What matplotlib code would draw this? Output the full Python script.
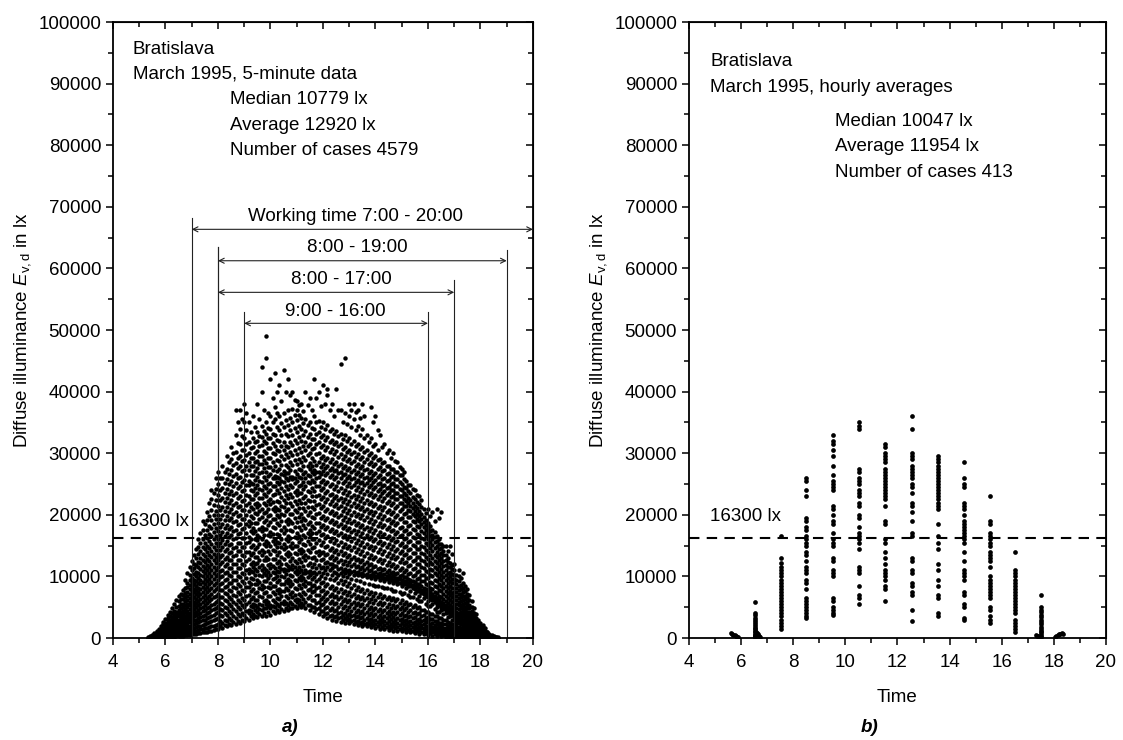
import matplotlib
matplotlib.use('Agg')
import matplotlib.pyplot as plt
from matplotlib.ticker import MultipleLocator

plt.rcParams['font.family'] = ['Liberation Sans', 'DejaVu Sans']
plt.rcParams['mathtext.fontset'] = 'custom'
plt.rcParams['mathtext.rm'] = 'Liberation Sans'
plt.rcParams['mathtext.it'] = 'Liberation Sans:italic'

# ---- a) 5-minute data (klx), grouped by time of day ----
t_5min = [5.33, 5.50, 5.67, 5.83, 6.00, 6.17, 6.33, 6.50, 6.67, 6.83,
          7.00, 7.17, 7.33, 7.50, 7.67, 7.83, 8.00, 8.17, 8.33, 8.50,
          8.67, 8.83, 9.00, 9.17, 9.33, 9.50, 9.67, 9.83, 10.00, 10.17,
          10.33, 10.50, 10.67, 10.83, 11.00, 11.17, 11.33, 11.50, 11.67, 11.83,
          12.00, 12.17, 12.33, 12.50, 12.67, 12.83, 13.00, 13.17, 13.33, 13.50,
          13.67, 13.83, 14.00, 14.17, 14.33, 14.50, 14.67, 14.83, 15.00, 15.17,
          15.33, 15.50, 15.67, 15.83, 16.00, 16.17, 16.33, 16.50, 16.67, 16.83,
          17.00, 17.17, 17.33, 17.50, 17.67, 17.83, 18.00, 18.17, 18.33, 18.50,
          18.67]
e_5min = [
    [0.0, 0.05, 0.1],
    [0.0, 0.1, 0.2, 0.3, 0.5],
    [0.0, 0.1, 0.2, 0.4, 0.6, 0.9, 1.2],
    [0.1, 0.2, 0.4, 0.6, 0.8, 1.1, 1.5, 2.0],
    [0.1, 0.3, 0.5, 0.8, 1.0, 1.3, 1.6, 2.0, 2.5, 3.1],
    [0.2, 0.4, 0.7, 1.0, 1.3, 1.6, 2.0, 2.4, 2.9, 3.5, 4.3],
    [0.2, 0.5, 0.8, 1.2, 1.5, 1.9, 2.3, 2.7, 3.2, 3.7, 4.4, 5.5],
    [0.3, 0.6, 1.0, 1.4, 1.8, 2.2, 2.6, 3.0, 3.5, 4.0, 4.6, 5.2, 6.0, 6.8],
    [0.4, 0.8, 1.2, 1.6, 2.1, 2.5, 3.0, 3.4, 3.9, 4.4, 5.0, 5.6, 6.3, 7.0, 7.8],
    [0.5, 0.9, 1.4, 1.9, 2.4, 2.9, 3.4, 3.9, 4.4, 5.0, 5.6, 6.2, 6.8, 7.5, 8.3, 9.0, 10.5],
    [0.6, 1.0, 1.5, 2.1, 2.7, 3.2, 3.8, 4.4, 5.0, 5.6, 6.3, 7.0, 7.7, 8.4, 9.1, 9.8, 11.0, 12.5],
    [0.7, 1.2, 1.8, 2.4, 3.0, 3.7, 4.3, 5.0, 5.7, 6.4, 7.1, 7.8, 8.5, 9.3, 10.0, 10.8, 11.8, 13.0, 14.5],
    [0.8, 1.4, 2.0, 2.7, 3.4, 4.1, 4.9, 5.6, 6.3, 7.1, 7.9, 8.7, 9.5, 10.3, 11.2, 12.1, 13.0, 14.2, 15.5, 17.0],
    [1.0, 1.6, 2.3, 3.0, 3.8, 4.6, 5.4, 6.2, 7.0, 7.9, 8.8, 9.6, 10.5, 11.4, 12.3, 13.3, 14.4, 15.5, 16.8, 18.5],
    [1.1, 1.8, 2.6, 3.4, 4.3, 5.1, 6.0, 6.9, 7.8, 8.7, 9.6, 10.5, 11.5, 12.5, 13.5, 14.6, 15.7, 16.9, 18.2, 19.8, 22.0],
    [1.3, 2.0, 2.9, 3.8, 4.7, 5.6, 6.6, 7.6, 8.6, 9.6, 10.6, 11.6, 12.6, 13.7, 14.8, 16.0, 17.2, 18.5, 20.0, 21.6, 23.5],
    [1.5, 2.3, 3.2, 4.2, 5.2, 6.2, 7.2, 8.3, 9.4, 10.4, 11.5, 12.6, 13.7, 14.9, 16.1, 17.3, 18.6, 20.0, 21.5, 23.2, 25.0, 27.0],
    [1.7, 2.5, 3.5, 4.5, 5.6, 6.7, 7.8, 8.9, 10.0, 11.1, 12.3, 13.5, 14.7, 15.9, 17.2, 18.5, 19.9, 21.3, 22.8, 24.4, 26.0, 28.0],
    [1.9, 2.8, 3.8, 4.9, 6.0, 7.2, 8.4, 9.6, 10.8, 12.0, 13.2, 14.5, 15.8, 17.1, 18.4, 19.8, 21.2, 22.7, 24.2, 25.8, 27.5, 29.5],
    [2.1, 3.0, 4.1, 5.2, 6.4, 7.6, 8.9, 10.1, 11.4, 12.7, 14.0, 15.3, 16.7, 18.1, 19.5, 20.9, 22.4, 23.9, 25.5, 27.2, 29.0, 31.0],
    [2.3, 3.3, 4.4, 5.6, 6.8, 8.1, 9.4, 10.7, 12.0, 13.4, 14.8, 16.2, 17.6, 19.0, 20.5, 22.0, 23.5, 25.1, 26.7, 28.4, 30.2, 33.0, 37.0],
    [2.5, 3.5, 4.7, 5.9, 7.2, 8.5, 9.9, 11.3, 12.7, 14.1, 15.5, 17.0, 18.5, 20.0, 21.5, 23.0, 24.6, 26.2, 27.9, 29.6, 31.5, 34.0, 37.0],
    [2.7, 3.8, 5.0, 6.2, 7.6, 9.0, 10.4, 11.8, 13.3, 14.8, 16.3, 17.8, 19.3, 20.8, 22.4, 24.0, 25.6, 27.2, 28.9, 30.6, 32.5, 35.0, 38.0],
    [3.0, 4.1, 4.6, 5.8, 7.0, 8.3, 9.1, 10.6, 11.2, 12.9, 14.0, 15.6, 16.4, 18.2, 19.0, 20.7, 21.9, 23.1, 24.8, 25.5, 27.3, 28.6, 30.1, 31.8, 35.0],
    [3.2, 3.9, 5.1, 5.5, 6.7, 8.0, 9.6, 10.8, 11.5, 12.4, 13.8, 15.1, 17.0, 17.9, 19.5, 21.0, 22.6, 23.8, 25.0, 26.4, 27.9, 29.2, 31.0, 32.5, 36.0],
    [3.4, 4.3, 5.0, 6.1, 7.4, 8.8, 9.5, 10.9, 12.2, 13.1, 14.7, 15.9, 16.8, 18.6, 20.1, 21.3, 22.0, 23.5, 24.9, 26.1, 27.6, 28.8, 30.4, 32.0, 33.5, 38.0],
    [3.5, 4.5, 5.3, 6.6, 7.9, 8.6, 10.0, 11.0, 11.8, 13.5, 14.3, 16.1, 17.4, 18.0, 19.7, 20.9, 22.8, 24.1, 25.3, 26.9, 28.2, 29.5, 31.3, 32.7, 34.5, 40.0, 44.0],
    [3.6, 4.8, 5.6, 6.2, 7.5, 9.2, 10.3, 11.1, 12.6, 13.2, 14.9, 15.8, 17.7, 19.1, 20.4, 21.6, 23.0, 24.4, 25.7, 27.0, 28.4, 30.0, 31.6, 33.2, 35.0, 45.5, 49.0],
    [3.8, 4.9, 5.4, 6.8, 8.1, 8.9, 10.2, 11.3, 12.0, 13.7, 15.0, 16.5, 17.2, 18.8, 20.0, 21.8, 22.5, 24.0, 25.2, 26.6, 27.8, 29.3, 30.9, 32.4, 34.0, 36.0, 42.0],
    [4.0, 5.0, 5.9, 7.1, 8.4, 9.7, 10.5, 11.4, 12.8, 14.2, 15.3, 16.0, 17.9, 19.3, 20.6, 21.2, 23.4, 24.7, 25.9, 26.3, 28.0, 29.8, 31.2, 33.0, 35.5, 37.5, 43.0],
    [4.2, 5.2, 6.3, 7.3, 8.0, 9.4, 10.7, 11.6, 12.5, 13.9, 15.5, 16.8, 18.3, 19.6, 20.8, 22.1, 23.6, 25.0, 26.0, 27.4, 28.7, 30.3, 32.0, 33.8, 36.0, 41.0],
    [4.4, 5.5, 6.0, 7.6, 8.7, 9.9, 10.9, 11.2, 12.9, 14.5, 15.2, 17.1, 18.0, 19.9, 21.3, 22.4, 23.9, 25.4, 26.5, 27.1, 29.0, 30.6, 31.9, 34.2, 36.5, 43.5],
    [4.6, 5.3, 6.5, 7.8, 9.0, 9.6, 11.0, 11.7, 13.3, 14.0, 15.8, 16.6, 18.5, 19.4, 21.0, 22.7, 24.2, 25.6, 26.8, 27.7, 29.4, 31.0, 32.8, 34.6, 37.0, 42.0],
    [4.8, 5.6, 6.7, 7.4, 8.8, 10.1, 11.2, 11.9, 13.0, 14.6, 15.4, 17.3, 18.7, 20.2, 21.5, 22.9, 24.5, 25.8, 26.2, 28.1, 29.7, 31.4, 33.0, 35.1, 37.2, 40.0],
    [4.9, 5.8, 6.4, 7.9, 9.2, 10.4, 11.0, 12.1, 13.6, 14.9, 16.2, 17.0, 18.9, 20.5, 21.7, 23.2, 24.0, 25.5, 26.7, 28.3, 29.9, 31.7, 33.5, 35.4, 37.0, 38.5],
    [5.0, 5.7, 6.9, 8.2, 9.5, 10.0, 11.1, 12.4, 13.8, 14.4, 16.0, 17.6, 19.0, 20.1, 22.0, 23.5, 24.8, 26.0, 27.2, 28.6, 30.2, 32.0, 33.9, 35.8, 38.0],
    [4.8, 5.9, 7.2, 8.5, 9.3, 10.6, 11.0, 12.7, 13.5, 15.1, 16.4, 17.8, 19.2, 20.7, 21.9, 23.0, 24.6, 25.9, 27.0, 28.9, 30.5, 31.8, 33.6, 35.6, 40.0],
    [4.6, 5.4, 6.8, 8.0, 9.0, 10.3, 10.9, 12.2, 13.9, 15.3, 16.7, 17.5, 18.8, 20.4, 22.3, 23.7, 25.1, 26.3, 27.5, 28.4, 30.0, 31.5, 33.2, 35.0, 39.0],
    [4.3, 5.1, 6.2, 7.7, 8.6, 9.9, 10.8, 12.0, 13.2, 14.7, 16.1, 17.9, 19.5, 20.9, 22.2, 23.9, 25.3, 26.6, 27.3, 28.8, 30.8, 32.3, 34.0, 36.0, 42.0],
    [3.9, 4.8, 5.8, 7.0, 8.3, 9.6, 10.7, 11.9, 13.4, 14.2, 15.9, 17.4, 18.6, 20.3, 21.8, 23.3, 24.7, 26.1, 27.0, 28.5, 30.1, 31.9, 33.4, 35.2, 40.0],
    [3.5, 4.4, 5.5, 6.6, 7.8, 9.1, 10.5, 11.5, 12.8, 14.0, 15.6, 16.9, 18.4, 19.8, 21.4, 22.9, 24.3, 25.7, 27.1, 28.2, 29.6, 31.3, 33.0, 35.0, 41.0],
    [3.2, 4.0, 5.1, 6.3, 7.5, 8.8, 10.4, 11.6, 12.3, 13.6, 15.0, 16.6, 18.1, 19.5, 21.0, 22.6, 23.8, 25.4, 26.8, 27.9, 29.3, 31.0, 32.6, 34.6, 39.5, 40.5],
    [3.0, 3.8, 4.9, 6.0, 7.2, 8.5, 10.2, 11.3, 12.0, 13.3, 14.6, 16.3, 17.7, 19.2, 20.6, 22.2, 23.4, 25.0, 26.5, 27.6, 29.0, 30.7, 32.2, 34.0, 38.0],
    [2.8, 3.6, 4.5, 5.7, 6.9, 8.2, 9.8, 10.6, 11.7, 13.0, 14.3, 15.9, 17.4, 18.9, 20.3, 21.8, 23.1, 24.6, 26.2, 27.3, 28.6, 30.3, 31.9, 33.6, 40.5],
    [2.6, 3.4, 4.2, 5.5, 6.6, 7.9, 9.5, 10.5, 11.4, 12.7, 14.1, 15.6, 17.1, 18.5, 19.9, 21.5, 22.8, 24.3, 25.9, 27.0, 28.3, 29.9, 31.5, 33.2, 37.0, 44.5],
    [2.5, 3.3, 4.0, 5.2, 6.4, 7.7, 9.2, 10.6, 11.2, 12.5, 13.8, 15.3, 16.8, 18.2, 19.6, 21.1, 22.5, 24.0, 25.5, 26.6, 28.0, 29.5, 31.0, 33.0, 36.5, 45.5],
    [2.5, 3.1, 3.9, 5.0, 6.1, 7.4, 8.9, 10.4, 11.0, 12.3, 13.5, 15.0, 16.5, 17.9, 19.3, 20.8, 22.2, 23.7, 25.2, 26.3, 27.6, 29.1, 30.6, 32.5, 36.0, 38.0],
    [2.3, 3.0, 3.8, 4.8, 5.9, 7.1, 8.6, 10.3, 10.9, 12.0, 13.2, 14.7, 16.2, 17.6, 19.0, 20.5, 21.9, 23.3, 24.8, 26.0, 27.2, 28.7, 30.2, 32.0, 35.5, 38.0],
    [2.1, 2.8, 3.6, 4.6, 5.7, 6.9, 8.3, 10.2, 10.7, 11.7, 12.9, 14.4, 15.9, 17.3, 18.7, 20.2, 21.6, 23.0, 24.5, 25.7, 26.9, 28.3, 29.8, 31.5, 34.5, 37.0],
    [2.0, 2.6, 3.4, 4.4, 5.5, 6.7, 8.0, 10.0, 10.6, 11.5, 12.6, 14.1, 15.6, 17.0, 18.4, 19.9, 21.3, 22.7, 24.2, 25.4, 26.6, 27.9, 29.4, 31.0, 34.0, 38.0],
    [1.9, 2.5, 3.3, 4.2, 5.3, 6.5, 7.8, 9.9, 10.4, 11.3, 12.3, 13.8, 15.3, 16.7, 18.1, 19.6, 21.0, 22.4, 23.9, 25.1, 26.2, 27.5, 29.0, 30.5, 33.0],
    [1.8, 2.4, 3.1, 4.0, 5.1, 6.3, 7.5, 9.8, 10.2, 11.0, 12.0, 13.5, 15.0, 16.4, 17.8, 19.3, 20.7, 22.1, 23.6, 24.8, 25.9, 27.1, 28.6, 30.0, 32.5, 37.5],
    [1.6, 2.3, 3.0, 3.9, 4.9, 6.1, 7.3, 8.4, 9.6, 10.1, 10.8, 11.7, 13.2, 14.7, 16.1, 17.5, 19.0, 20.4, 21.8, 23.3, 24.5, 25.6, 26.8, 28.2, 29.5, 31.5, 36.0],
    [1.5, 2.2, 2.9, 3.7, 4.7, 5.9, 7.1, 9.4, 10.0, 10.6, 11.4, 12.9, 14.4, 15.8, 17.2, 18.7, 20.1, 21.5, 23.0, 24.2, 25.2, 26.4, 27.8, 29.0, 33.0],
    [1.4, 2.1, 2.8, 3.6, 4.5, 5.7, 6.9, 8.1, 9.3, 9.8, 10.4, 11.2, 12.6, 14.1, 15.5, 16.9, 18.4, 19.8, 21.2, 22.7, 23.9, 24.9, 26.0, 27.3, 28.5, 31.5],
    [1.3, 2.0, 2.7, 3.5, 4.4, 5.5, 6.7, 9.1, 9.7, 10.2, 11.0, 12.3, 13.8, 15.2, 16.6, 18.0, 19.4, 20.8, 22.3, 23.5, 24.5, 25.6, 26.8, 28.0, 30.5],
    [1.2, 1.9, 2.6, 3.4, 4.3, 5.4, 6.5, 7.7, 8.9, 9.5, 10.0, 10.8, 12.0, 13.5, 14.9, 16.2, 17.6, 19.0, 20.4, 21.9, 23.1, 24.1, 25.2, 26.3, 27.5, 30.0],
    [1.2, 1.8, 2.5, 3.3, 4.2, 5.2, 6.3, 8.7, 9.3, 9.8, 10.5, 11.7, 13.1, 14.5, 15.8, 17.2, 18.6, 20.0, 21.4, 22.6, 23.6, 24.7, 25.8, 27.0, 28.5],
    [1.1, 1.7, 2.4, 3.1, 4.0, 5.0, 6.1, 7.2, 8.4, 9.0, 9.5, 10.2, 11.4, 12.8, 14.1, 15.4, 16.8, 18.1, 19.5, 20.9, 22.0, 23.0, 24.0, 25.0, 26.5, 27.5],
    [1.0, 1.6, 2.2, 3.0, 3.8, 4.8, 5.9, 8.1, 8.7, 9.2, 9.9, 11.0, 12.4, 13.7, 14.9, 16.3, 17.6, 18.9, 20.3, 21.4, 22.3, 23.3, 24.3, 25.5],
    [0.9, 1.5, 2.1, 2.8, 3.6, 4.5, 5.6, 6.6, 7.7, 8.4, 8.9, 9.5, 10.6, 11.9, 13.2, 14.4, 15.7, 17.0, 18.3, 19.6, 20.6, 21.5, 22.4, 23.5, 24.8],
    [0.8, 1.4, 2.0, 2.6, 3.4, 4.3, 5.3, 7.3, 8.0, 8.5, 9.1, 10.2, 11.4, 12.6, 13.8, 15.0, 16.3, 17.5, 18.8, 19.8, 20.6, 21.5, 22.6, 24.0],
    [0.7, 1.3, 1.8, 2.4, 3.1, 4.0, 5.0, 6.0, 6.9, 7.6, 8.1, 8.7, 9.7, 10.9, 12.0, 13.2, 14.4, 15.6, 16.8, 18.0, 19.0, 19.8, 20.6, 21.8, 23.0],
    [0.6, 1.1, 1.6, 2.2, 2.9, 3.7, 4.6, 6.5, 7.1, 7.6, 8.2, 9.2, 10.3, 11.4, 12.5, 13.7, 14.8, 16.0, 17.1, 18.0, 18.8, 19.6, 21.0],
    [0.5, 1.0, 1.5, 2.0, 2.7, 3.4, 4.3, 5.2, 6.0, 6.6, 7.1, 7.7, 8.6, 9.7, 10.7, 11.8, 12.9, 14.0, 15.1, 16.1, 17.0, 17.8, 18.6, 21.0],
    [0.4, 0.9, 1.3, 1.8, 2.4, 3.1, 3.9, 5.5, 6.1, 6.6, 7.1, 8.0, 9.0, 10.0, 11.0, 12.0, 13.0, 14.1, 15.1, 16.0, 16.8, 17.6, 20.5],
    [0.4, 0.8, 1.2, 1.6, 2.2, 2.8, 3.6, 4.3, 5.0, 5.6, 6.0, 6.5, 7.3, 8.3, 9.2, 10.2, 11.2, 12.1, 13.1, 14.0, 14.9, 15.7, 16.5, 21.0],
    [0.3, 0.7, 1.0, 1.4, 1.9, 2.5, 3.2, 4.5, 5.0, 5.4, 5.9, 6.7, 7.6, 8.5, 9.4, 10.3, 11.2, 12.1, 13.0, 13.8, 14.6, 15.3, 20.5],
    [0.2, 0.5, 0.8, 1.2, 1.7, 2.2, 2.9, 4.0, 4.5, 4.9, 5.3, 6.0, 6.9, 7.7, 8.5, 9.4, 10.2, 11.0, 11.9, 12.7, 13.4, 15.0],
    [0.2, 0.4, 0.7, 1.0, 1.4, 1.9, 2.5, 3.5, 3.9, 4.3, 4.7, 5.4, 6.2, 7.0, 7.7, 8.5, 9.3, 10.0, 10.8, 11.5, 12.2, 15.0],
    [0.1, 0.3, 0.6, 0.9, 1.2, 1.6, 2.1, 3.0, 3.4, 3.7, 4.1, 4.7, 5.4, 6.1, 6.8, 7.5, 8.2, 8.9, 9.6, 10.3, 11.0, 12.0],
    [0.1, 0.3, 0.5, 0.7, 1.0, 1.4, 1.8, 2.5, 2.9, 3.2, 3.5, 4.1, 4.7, 5.3, 5.9, 6.5, 7.2, 7.8, 8.5, 9.2, 10.0, 11.0],
    [0.1, 0.2, 0.4, 0.6, 0.8, 1.1, 1.5, 2.0, 2.4, 2.7, 3.0, 3.5, 4.0, 4.5, 5.0, 5.6, 6.2, 6.8, 7.4, 8.1, 9.0, 10.5],
    [0.05, 0.2, 0.3, 0.5, 0.7, 0.9, 1.2, 1.6, 1.9, 2.2, 2.5, 2.9, 3.3, 3.8, 4.3, 4.8, 5.3, 5.9, 6.5, 7.2, 8.0],
    [0.05, 0.1, 0.2, 0.4, 0.5, 0.7, 0.9, 1.2, 1.5, 1.7, 2.0, 2.3, 2.7, 3.1, 3.5, 3.9, 4.4, 5.0, 6.0],
    [0.0, 0.1, 0.2, 0.3, 0.4, 0.5, 0.7, 0.9, 1.1, 1.3, 1.5, 1.8, 2.1, 2.4, 2.8, 3.3, 3.9],
    [0.0, 0.1, 0.15, 0.2, 0.3, 0.4, 0.5, 0.7, 0.8, 1.0, 1.2, 1.4, 1.7, 2.0, 2.5],
    [0.0, 0.05, 0.1, 0.15, 0.2, 0.3, 0.4, 0.5, 0.6, 0.8, 1.0, 1.2, 1.6],
    [0.0, 0.05, 0.1, 0.15, 0.2, 0.3, 0.4, 0.5, 0.7],
    [0.0, 0.05, 0.1, 0.2, 0.3],
    [0.0, 0.05, 0.1],
]
# the samples in between (5 minutes later)
t_5min_b = [5.42, 5.58, 5.75, 5.92, 6.08, 6.25, 6.42, 6.58, 6.75, 6.92,
            7.08, 7.25, 7.42, 7.58, 7.75, 7.92, 8.08, 8.25, 8.42, 8.58,
            8.75, 8.92, 9.08, 9.25, 9.42, 9.58, 9.75, 9.92, 10.08, 10.25,
            10.42, 10.58, 10.75, 10.92, 11.08, 11.25, 11.42, 11.58, 11.75, 11.92,
            12.08, 12.25, 12.42, 12.58, 12.75, 12.92, 13.08, 13.25, 13.42, 13.58,
            13.75, 13.92, 14.08, 14.25, 14.42, 14.58, 14.75, 14.92, 15.08, 15.25,
            15.42, 15.58, 15.75, 15.92, 16.08, 16.25, 16.42, 16.58, 16.75, 16.92,
            17.08, 17.25, 17.42, 17.58, 17.75, 17.92, 18.08, 18.25, 18.42, 18.58]
e_5min_b = [
    [0.0, 0.05, 0.15, 0.3],
    [0.0, 0.1, 0.2, 0.35, 0.6, 0.8],
    [0.05, 0.2, 0.3, 0.5, 0.75, 1.0, 1.4],
    [0.1, 0.25, 0.45, 0.7, 0.95, 1.2, 1.7, 2.3, 2.6],
    [0.15, 0.35, 0.6, 0.9, 1.15, 1.5, 1.8, 2.2, 2.7, 3.3, 3.8],
    [0.2, 0.45, 0.75, 1.1, 1.45, 1.75, 2.2, 2.6, 3.0, 3.4, 4.0, 4.8],
    [0.25, 0.55, 0.9, 1.3, 1.65, 2.05, 2.5, 2.85, 3.35, 3.9, 4.2, 5.0, 6.2],
    [0.35, 0.7, 1.1, 1.5, 2.0, 2.4, 2.8, 3.3, 3.7, 4.3, 4.9, 5.5, 6.4, 7.2],
    [0.45, 0.85, 1.3, 1.75, 2.3, 2.7, 3.2, 3.65, 4.2, 4.7, 5.3, 6.0, 6.6, 7.3, 8.1, 9.5],
    [0.5, 1.0, 1.45, 2.0, 2.55, 3.1, 3.6, 4.1, 4.7, 5.3, 5.9, 6.5, 7.2, 7.9, 8.6, 9.4, 10.2, 11.5],
    [0.65, 1.1, 1.7, 2.25, 2.85, 3.5, 4.0, 4.7, 5.3, 5.9, 6.7, 7.4, 8.0, 8.8, 9.5, 10.4, 11.4, 12.0, 13.5],
    [0.75, 1.3, 1.9, 2.55, 3.2, 3.9, 4.6, 5.3, 6.0, 6.8, 7.5, 8.2, 9.0, 9.8, 10.6, 11.5, 12.4, 13.6, 14.8, 16.0],
    [0.9, 1.5, 2.15, 2.85, 3.6, 4.35, 5.1, 5.9, 6.6, 7.5, 8.3, 9.1, 10.0, 10.9, 11.7, 12.7, 13.7, 14.8, 16.1, 17.5, 19.0],
    [1.05, 1.7, 2.45, 3.2, 4.0, 4.85, 5.7, 6.55, 7.4, 8.3, 9.2, 10.1, 11.0, 11.9, 12.9, 13.9, 15.0, 16.2, 17.5, 19.2, 20.5],
    [1.2, 1.9, 2.75, 3.6, 4.5, 5.35, 6.3, 7.2, 8.2, 9.1, 10.1, 11.1, 12.0, 13.1, 14.2, 15.3, 16.5, 17.8, 19.1, 20.8, 22.5, 24.0],
    [1.4, 2.15, 3.05, 4.0, 4.9, 5.9, 6.9, 7.9, 9.0, 10.0, 11.0, 12.1, 13.2, 14.3, 15.5, 16.6, 17.9, 19.3, 20.7, 22.4, 24.2, 26.0],
    [1.9, 2.75, 3.7, 4.7, 5.7, 6.7, 7.75, 8.85, 9.9, 10.95, 12.05, 13.15, 14.3, 15.5, 16.7, 17.95, 19.3, 20.75, 22.35, 24.1, 26.0],
    [2.1, 3.0, 4.0, 5.05, 6.15, 7.25, 8.35, 9.45, 10.55, 11.7, 12.9, 14.1, 15.3, 16.55, 17.85, 19.2, 20.6, 22.05, 23.6, 25.2, 27.0],
    [2.35, 3.3, 4.35, 5.45, 6.6, 7.8, 9.0, 10.2, 11.4, 12.6, 13.85, 15.15, 16.45, 17.75, 19.1, 20.5, 21.95, 23.45, 25.0, 26.65, 28.5],
    [2.55, 3.55, 4.65, 5.8, 7.0, 8.25, 9.5, 10.75, 12.05, 13.35, 14.65, 16.0, 17.4, 18.8, 20.2, 21.65, 23.15, 24.7, 26.35, 28.1, 30.0],
    [2.8, 3.85, 5.0, 6.2, 7.45, 8.75, 10.05, 11.35, 12.7, 14.1, 15.5, 16.9, 18.3, 19.75, 21.25, 22.75, 24.3, 25.9, 27.55, 29.3, 31.6, 35.0],
    [3.0, 4.1, 5.3, 6.55, 7.85, 9.2, 10.6, 12.0, 13.4, 14.8, 16.25, 17.75, 19.25, 20.75, 22.25, 23.8, 25.4, 27.05, 28.75, 30.55, 32.75, 35.5],
    [3.2, 4.4, 5.6, 6.9, 8.3, 9.7, 11.1, 12.5, 14.0, 15.5, 17.0, 18.5, 20.0, 21.6, 23.2, 24.8, 26.4, 28.0, 29.7, 31.5, 33.7, 36.5],
    [3.5, 4.35, 5.2, 6.4, 7.6, 8.7, 9.8, 10.9, 12.0, 13.4, 14.8, 16.0, 17.3, 18.6, 19.8, 21.3, 22.5, 24.0, 25.1, 26.4, 27.9, 29.3, 30.9, 33.4],
    [3.55, 4.5, 5.3, 6.1, 7.35, 8.8, 10.2, 11.15, 11.95, 13.1, 14.45, 16.05, 17.45, 18.7, 20.25, 21.8, 23.2, 24.4, 25.7, 27.15, 28.55, 30.1, 31.75, 34.2],
    [3.85, 4.65, 5.55, 6.75, 8.1, 9.15, 10.2, 11.55, 12.65, 13.9, 15.3, 16.35, 17.7, 19.35, 20.7, 21.65, 22.75, 24.2, 25.5, 26.85, 28.2, 29.6, 31.2, 32.75, 35.5],
    [4.0, 4.9, 5.95, 7.25, 8.25, 9.3, 10.5, 11.4, 12.65, 13.9, 15.2, 16.75, 17.7, 18.85, 20.3, 21.85, 23.45, 24.7, 26.1, 27.55, 28.85, 30.4, 32.0, 33.6, 37.0],
    [4.2, 5.2, 5.9, 6.85, 8.35, 9.75, 10.7, 11.85, 12.9, 14.05, 15.35, 16.75, 18.4, 19.75, 21.0, 22.3, 23.7, 25.05, 26.35, 27.7, 29.2, 30.8, 32.4, 34.1, 36.5],
    [4.35, 5.15, 6.1, 7.45, 8.5, 9.55, 10.75, 11.65, 12.85, 14.35, 15.75, 16.85, 18.0, 19.4, 20.9, 22.15, 23.25, 24.6, 25.9, 27.2, 28.55, 30.1, 31.65, 33.2, 35.0, 39.0],
    [4.5, 5.45, 6.5, 7.75, 9.05, 10.1, 10.95, 12.1, 13.5, 14.75, 15.65, 16.95, 18.6, 19.95, 20.9, 22.3, 24.05, 25.3, 26.1, 27.15, 28.9, 30.5, 32.1, 34.25, 36.5, 40.0],
    [4.7, 5.75, 6.8, 7.65, 8.7, 10.05, 11.15, 12.05, 13.2, 14.7, 16.15, 17.55, 18.95, 20.2, 21.45, 22.85, 24.3, 25.5, 26.7, 28.05, 29.5, 31.15, 32.9, 34.9, 38.5],
    [4.95, 5.75, 6.8, 8.15, 9.3, 10.4, 11.05, 12.05, 13.7, 14.85, 16.15, 17.55, 18.95, 20.6, 21.85, 23.15, 24.65, 25.95, 26.8, 28.05, 29.8, 31.25, 33.05, 35.35, 40.0],
    [4.95, 5.9, 7.15, 8.4, 9.3, 10.3, 11.35, 12.5, 13.65, 14.9, 16.2, 17.55, 18.95, 20.2, 21.85, 23.45, 24.9, 26.2, 27.25, 28.55, 30.2, 31.9, 33.7, 35.8, 39.5],
    [5.2, 6.15, 7.05, 8.1, 9.45, 10.65, 11.55, 12.45, 13.8, 15.0, 16.35, 18.0, 19.45, 20.85, 22.2, 23.7, 25.15, 26.0, 27.15, 28.9, 30.55, 32.2, 34.05, 36.15, 38.6],
    [5.35, 6.1, 7.15, 8.55, 9.8, 10.7, 11.55, 12.85, 14.25, 15.55, 16.6, 17.95, 19.7, 21.1, 22.45, 23.6, 24.75, 26.1, 27.5, 29.1, 30.8, 32.6, 34.45, 36.2, 37.75],
    [5.35, 6.3, 7.55, 8.85, 9.75, 10.55, 11.75, 13.1, 14.1, 15.2, 16.8, 18.3, 19.55, 21.05, 22.75, 24.15, 25.4, 26.6, 27.9, 29.4, 31.1, 32.95, 34.85, 36.9],
    [5.35, 6.55, 7.85, 8.9, 9.95, 10.8, 11.85, 13.1, 14.3, 15.75, 17.1, 18.5, 19.95, 21.3, 22.45, 23.8, 25.25, 26.45, 27.95, 29.7, 31.15, 32.7, 34.6, 37.8],
    [5.0, 6.1, 7.4, 8.5, 9.65, 10.6, 11.55, 13.05, 14.6, 16.0, 17.1, 18.15, 19.6, 21.35, 23.0, 24.4, 25.7, 26.9, 27.95, 29.2, 30.75, 32.35, 34.1, 37.0],
    [4.7, 5.65, 6.95, 8.15, 9.25, 10.35, 11.4, 12.6, 13.95, 15.4, 17.0, 18.7, 20.2, 21.55, 23.05, 24.6, 25.95, 26.95, 28.05, 29.8, 31.55, 33.15, 35.0, 39.0],
    [4.35, 5.3, 6.4, 7.65, 8.95, 10.15, 11.3, 12.65, 13.8, 15.05, 16.65, 18.0, 19.45, 21.05, 22.55, 24.0, 25.4, 26.55, 27.75, 29.3, 31.0, 32.65, 34.3, 37.6],
    [3.95, 4.95, 6.05, 7.2, 8.45, 9.8, 11.0, 12.15, 13.4, 14.8, 16.25, 17.65, 19.1, 20.6, 22.15, 23.6, 25.0, 26.4, 27.65, 28.9, 30.45, 32.15, 34.0, 38.0],
    [3.6, 4.55, 5.7, 6.9, 8.15, 9.6, 11.0, 11.95, 12.95, 14.3, 15.8, 17.35, 18.8, 20.25, 21.8, 23.2, 24.6, 26.1, 27.35, 28.6, 30.15, 31.8, 33.6, 37.0],
    [3.4, 4.35, 5.45, 6.6, 7.85, 9.35, 10.75, 11.65, 12.65, 13.95, 15.45, 17.0, 18.45, 19.9, 21.4, 22.8, 24.2, 25.75, 27.05, 28.3, 29.85, 31.45, 33.1, 36.0],
    [3.2, 4.05, 5.1, 6.3, 7.55, 9.0, 10.2, 11.15, 12.35, 13.65, 15.1, 16.65, 18.15, 19.6, 21.05, 22.45, 23.85, 25.4, 26.75, 27.95, 29.45, 31.1, 32.75, 37.0],
    [3.0, 3.8, 4.85, 6.05, 7.25, 8.7, 10.0, 10.95, 12.05, 13.4, 14.85, 16.35, 17.8, 19.2, 20.7, 22.15, 23.55, 25.1, 26.45, 27.65, 29.1, 30.7, 32.35, 35.1],
    [2.9, 3.65, 4.6, 5.8, 7.05, 8.45, 9.9, 10.9, 11.85, 13.15, 14.55, 16.05, 17.5, 18.9, 20.35, 21.8, 23.25, 24.75, 26.05, 27.3, 28.75, 30.25, 32.0, 34.75],
    [2.8, 3.5, 4.45, 5.55, 6.75, 8.15, 9.65, 10.7, 11.65, 12.9, 14.25, 15.75, 17.2, 18.6, 20.05, 21.5, 22.95, 24.45, 25.75, 26.95, 28.35, 29.85, 31.55, 34.25, 37.0],
    [2.65, 3.4, 4.3, 5.35, 6.5, 7.85, 9.45, 10.6, 11.45, 12.6, 13.95, 15.45, 16.9, 18.3, 19.75, 21.2, 22.6, 24.05, 25.4, 26.6, 27.95, 29.45, 31.1, 33.75, 36.75],
    [2.45, 3.2, 4.1, 5.15, 6.3, 7.6, 9.25, 10.45, 11.2, 12.3, 13.65, 15.15, 16.6, 18.0, 19.45, 20.9, 22.3, 23.75, 25.1, 26.3, 27.6, 29.05, 30.65, 33.0, 35.75],
    [2.3, 3.0, 3.9, 4.95, 6.1, 7.35, 9.0, 10.3, 11.05, 12.05, 13.35, 14.85, 16.3, 17.7, 19.15, 20.6, 22.0, 23.45, 24.8, 26.0, 27.25, 28.65, 30.2, 32.5, 36.0],
    [2.2, 2.9, 3.75, 4.75, 5.9, 7.15, 8.85, 10.15, 10.85, 11.8, 13.05, 14.55, 16.0, 17.4, 18.85, 20.3, 21.7, 23.15, 24.5, 25.65, 26.85, 28.25, 29.75, 31.75],
    [2.1, 2.75, 3.55, 4.55, 5.7, 6.9, 8.65, 10.0, 10.6, 11.5, 12.75, 14.25, 15.7, 17.1, 18.55, 20.0, 21.4, 22.85, 24.2, 25.35, 26.5, 27.85, 29.3, 31.25, 35.0],
    [1.95, 2.65, 3.45, 4.4, 5.5, 6.7, 8.45, 9.85, 10.45, 11.25, 12.45, 13.95, 15.4, 16.8, 18.25, 19.7, 21.1, 22.55, 23.9, 25.05, 26.2, 27.5, 28.85, 30.5, 33.75],
    [1.85, 2.55, 3.3, 4.2, 5.3, 6.5, 8.25, 9.7, 10.3, 11.0, 12.15, 13.65, 15.1, 16.5, 17.95, 19.4, 20.8, 22.25, 23.6, 24.7, 25.8, 27.1, 28.4, 31.0],
    [1.75, 2.45, 3.2, 4.05, 5.1, 6.3, 8.1, 9.55, 10.1, 10.8, 11.9, 13.35, 14.8, 16.2, 17.65, 19.1, 20.5, 21.95, 23.3, 24.4, 25.45, 26.65, 27.9, 30.0],
    [1.65, 2.35, 3.1, 3.95, 4.95, 6.1, 7.9, 9.4, 9.95, 10.6, 11.65, 13.05, 14.5, 15.9, 17.3, 18.7, 20.1, 21.55, 22.9, 24.0, 25.05, 26.2, 27.4, 29.25],
    [1.55, 2.25, 3.0, 3.85, 4.85, 5.95, 7.7, 9.2, 9.75, 10.4, 11.4, 12.75, 14.2, 15.55, 16.9, 18.3, 19.7, 21.15, 22.5, 23.6, 24.65, 25.75, 26.9, 28.75],
    [1.5, 2.15, 2.9, 3.75, 4.7, 5.75, 7.5, 9.0, 9.55, 10.15, 11.1, 12.4, 13.8, 15.15, 16.5, 17.9, 19.3, 20.7, 22.0, 23.1, 24.15, 25.25, 26.4, 27.75],
    [1.4, 2.05, 2.75, 3.55, 4.5, 5.55, 7.25, 8.7, 9.25, 9.85, 10.8, 12.1, 13.45, 14.75, 16.1, 17.45, 18.8, 20.2, 21.45, 22.5, 23.5, 24.5, 25.75, 27.0],
    [1.3, 1.9, 2.6, 3.4, 4.3, 5.35, 7.0, 8.4, 8.95, 9.55, 10.45, 11.7, 13.05, 14.3, 15.6, 16.95, 18.25, 19.6, 20.85, 21.85, 22.8, 23.8, 24.9],
    [1.2, 1.8, 2.45, 3.2, 4.05, 5.05, 6.65, 8.05, 8.65, 9.2, 10.05, 11.25, 12.55, 13.8, 15.05, 16.35, 17.65, 18.95, 20.1, 21.05, 21.95, 22.95, 24.15],
    [1.1, 1.7, 2.3, 3.0, 3.85, 4.8, 6.3, 7.65, 8.25, 8.8, 9.65, 10.8, 12.0, 13.2, 14.4, 15.65, 16.9, 18.15, 19.3, 20.2, 21.05, 22.05, 23.3],
    [1.0, 1.55, 2.1, 2.75, 3.55, 4.5, 5.95, 7.25, 7.85, 8.4, 9.2, 10.3, 11.45, 12.6, 13.8, 15.0, 16.2, 17.4, 18.5, 19.4, 20.2, 21.2, 22.4],
    [0.85, 1.35, 1.9, 2.55, 3.3, 4.15, 5.55, 6.8, 7.35, 7.9, 8.7, 9.75, 10.85, 11.95, 13.1, 14.25, 15.4, 16.55, 17.55, 18.4, 19.2, 20.3],
    [0.75, 1.25, 1.75, 2.35, 3.05, 3.85, 5.15, 6.3, 6.85, 7.4, 8.15, 9.15, 10.2, 11.25, 12.35, 13.45, 14.55, 15.6, 16.55, 17.4, 18.2, 19.8],
    [0.65, 1.1, 1.55, 2.1, 2.75, 3.5, 4.7, 5.8, 6.35, 6.85, 7.55, 8.5, 9.5, 10.5, 11.5, 12.5, 13.55, 14.6, 15.55, 16.4, 17.2, 19.0],
    [0.6, 1.0, 1.4, 1.9, 2.5, 3.2, 4.3, 5.3, 5.8, 6.25, 6.9, 7.8, 8.75, 9.7, 10.7, 11.65, 12.6, 13.55, 14.45, 15.3, 16.1, 19.5],
    [0.5, 0.85, 1.2, 1.65, 2.2, 2.85, 3.85, 4.75, 5.2, 5.65, 6.3, 7.15, 8.05, 8.95, 9.85, 10.75, 11.65, 12.55, 13.4, 14.2, 14.95],
    [0.35, 0.65, 1.0, 1.45, 1.95, 2.55, 3.45, 4.25, 4.7, 5.1, 5.65, 6.45, 7.3, 8.1, 8.95, 9.8, 10.6, 11.45, 12.3, 13.05, 14.2],
    [0.3, 0.55, 0.85, 1.2, 1.65, 2.2, 3.0, 3.7, 4.1, 4.5, 5.05, 5.8, 6.6, 7.35, 8.1, 8.9, 9.65, 10.4, 11.15, 11.85, 13.6],
    [0.1, 0.3, 0.55, 0.8, 1.1, 1.5, 1.95, 2.5, 3.0, 3.4, 3.8, 4.2, 4.9, 5.5, 6.1, 6.8, 7.4, 8.1, 8.8, 9.5, 10.3],
    [0.1, 0.25, 0.45, 0.65, 0.9, 1.25, 1.65, 2.2, 2.6, 2.9, 3.3, 3.7, 4.3, 4.8, 5.4, 6.0, 6.6, 7.2, 7.9, 8.6, 9.8],
    [0.05, 0.2, 0.35, 0.55, 0.75, 1.0, 1.35, 1.8, 2.1, 2.4, 2.8, 3.2, 3.6, 4.1, 4.6, 5.1, 5.7, 6.3, 6.9, 7.6, 8.5],
    [0.05, 0.15, 0.25, 0.45, 0.6, 0.8, 1.05, 1.4, 1.7, 2.0, 2.3, 2.6, 3.0, 3.4, 3.9, 4.3, 4.8, 5.4, 6.1, 7.0],
    [0.0, 0.1, 0.2, 0.35, 0.45, 0.6, 0.8, 1.05, 1.3, 1.5, 1.75, 2.05, 2.4, 2.75, 3.1, 3.6, 4.1, 4.8],
    [0.0, 0.05, 0.15, 0.25, 0.35, 0.45, 0.6, 0.8, 0.95, 1.15, 1.35, 1.6, 1.9, 2.2, 2.6, 3.0],
    [0.0, 0.05, 0.1, 0.2, 0.25, 0.35, 0.45, 0.6, 0.7, 0.9, 1.1, 1.3, 1.5, 1.8, 2.1],
    [0.0, 0.05, 0.1, 0.15, 0.2, 0.25, 0.35, 0.45, 0.55, 0.7, 0.9, 1.0],
    [0.0, 0.05, 0.1, 0.15, 0.2, 0.3, 0.4, 0.5],
    [0.0, 0.05, 0.1, 0.15],
]
assert len(t_5min) == len(e_5min) and len(t_5min_b) == len(e_5min_b)

# ---- b) hourly averages (klx) ----
t_hour = [6.52, 7.53, 8.50, 9.53, 10.52, 11.52, 12.54, 13.54, 14.54, 15.54, 16.52, 17.51]
e_hour = [
    [5.9, 4.0, 3.7, 3.3, 2.9, 2.6, 2.3, 2.0, 1.7, 1.4, 1.1, 0.9, 0.7, 0.5, 0.3, 0.2, 0.1],
    [16.5, 13.0, 12.2, 11.5, 11.0, 10.5, 10.0, 9.5, 9.0, 8.5, 8.0, 7.5, 7.0, 6.5, 6.0, 5.5,
     5.0, 4.5, 4.0, 3.5, 3.0, 2.5, 2.0, 1.5],
    [26.0, 25.5, 24.0, 23.0, 19.5, 19.0, 18.0, 17.5, 16.5, 16.0, 15.5, 15.0, 14.0, 13.5, 12.5,
     11.5, 11.0, 10.5, 9.5, 9.0, 8.0, 6.5, 6.0, 5.5, 5.0, 4.5, 4.0, 3.5, 3.2],
    [33.0, 32.0, 31.5, 30.5, 29.5, 28.0, 26.5, 25.5, 25.0, 24.5, 24.0, 21.5, 21.0, 20.0, 19.0,
     18.5, 17.0, 16.0, 15.5, 15.0, 13.0, 12.5, 11.0, 10.5, 10.0, 6.5, 6.0, 5.0, 4.5, 4.0, 3.8],
    [35.0, 34.5, 34.0, 27.5, 27.0, 26.0, 25.5, 25.0, 24.0, 23.5, 23.0, 22.0, 21.5, 20.0, 19.5,
     18.0, 17.0, 16.5, 16.0, 15.5, 14.5, 11.5, 11.0, 10.5, 8.5, 7.0, 6.5, 5.5],
    [31.5, 31.0, 30.0, 29.5, 29.0, 28.5, 27.5, 27.0, 26.5, 26.0, 25.5, 25.0, 24.5, 24.0, 23.5,
     23.0, 22.5, 21.5, 19.0, 18.5, 16.0, 15.5, 14.0, 13.0, 12.0, 11.0, 10.5, 10.0, 9.5, 8.5, 8.0, 6.0],
    [36.0, 34.0, 30.0, 29.5, 29.0, 28.0, 27.5, 27.0, 26.5, 26.0, 25.0, 24.5, 23.5, 22.0, 21.5,
     20.5, 19.0, 17.0, 16.5, 13.0, 12.5, 11.0, 10.5, 9.0, 8.5, 7.5, 7.0, 4.5, 2.8],
    [29.5, 29.0, 28.5, 28.0, 27.5, 27.0, 26.5, 26.0, 25.5, 25.0, 24.5, 24.0, 23.5, 23.0, 22.5,
     22.0, 21.5, 21.0, 18.5, 16.5, 15.5, 14.5, 12.0, 11.0, 9.5, 8.5, 7.0, 6.5, 4.0, 3.5],
    [28.5, 26.0, 25.0, 24.5, 22.0, 21.5, 21.0, 20.0, 19.0, 18.5, 18.0, 17.5, 17.0, 16.5, 16.0,
     15.5, 14.0, 12.5, 11.0, 10.5, 10.0, 9.5, 7.5, 7.0, 5.5, 5.0, 3.2, 3.0],
    [23.0, 19.0, 18.5, 17.0, 16.5, 16.0, 15.5, 15.0, 14.0, 13.5, 13.0, 12.5, 11.5, 10.0, 9.5,
     9.0, 8.5, 8.0, 7.5, 7.0, 6.5, 5.0, 4.5, 3.5, 3.0, 2.5],
    [14.0, 11.0, 10.5, 10.0, 9.5, 9.0, 8.5, 8.0, 7.5, 7.0, 6.5, 6.0, 5.5, 5.0, 4.5, 4.0, 3.0,
     2.5, 2.0, 1.5, 1.0],
    [7.0, 5.0, 4.6, 4.2, 3.8, 3.4, 3.0, 2.6, 2.2, 1.8, 1.5, 1.2, 0.9, 0.6, 0.4, 0.2],
]
# partial hours around sunrise / sunset
t_edge = [5.60, 5.65, 5.70, 5.75, 5.80, 5.85, 5.90,
          6.58, 6.62, 6.66, 6.70, 6.74,
          17.30, 17.34, 17.38, 17.42,
          18.05, 18.10, 18.15, 18.20, 18.25, 18.30, 18.35]
e_edge = [0.8, 0.7, 0.55, 0.45, 0.3, 0.2, 0.1,
          0.9, 0.8, 0.6, 0.4, 0.2,
          0.5, 0.4, 0.3, 0.15,
          0.2, 0.35, 0.5, 0.6, 0.7, 0.75, 0.7]

threshold = 16300
stats_a = ['Median 10779 lx', 'Average 12920 lx', 'Number of cases 4579']
stats_b = ['Median 10047 lx', 'Average 11954 lx', 'Number of cases 413']
# (start, end, label) of the working-time spans in panel a)
spans = [(7, 20, 'Working time 7:00 - 20:00'),
         (8, 19, '8:00 - 19:00'),
         (8, 17, '8:00 - 17:00'),
         (9, 16, '9:00 - 16:00')]

FS = 13.5

fig = plt.figure(figsize=(11.23, 7.40), dpi=100)
ax_a = fig.add_axes([0.1006, 0.1378, 0.374, 0.8324])
ax_b = fig.add_axes([0.6135, 0.1378, 0.3713, 0.8324])


def style_axes(ax):
    ax.set_xlim(4, 20)
    ax.set_ylim(0, 100000)
    ax.xaxis.set_major_locator(MultipleLocator(2))
    ax.xaxis.set_minor_locator(MultipleLocator(1))
    ax.yaxis.set_major_locator(MultipleLocator(10000))
    ax.yaxis.set_minor_locator(MultipleLocator(5000))
    ax.tick_params(which='both', direction='out', labelsize=FS, width=1.1)
    ax.tick_params(which='major', length=5)
    ax.tick_params(which='minor', length=3.5)
    ax.tick_params(axis='x', pad=6.5)
    for s in ax.spines.values():
        s.set_linewidth(1.3)
    top = ax.secondary_xaxis('top')
    top.xaxis.set_major_locator(MultipleLocator(2))
    top.xaxis.set_minor_locator(MultipleLocator(1))
    top.tick_params(which='both', direction='in', labeltop=False, width=1.1)
    top.tick_params(which='major', length=5)
    top.tick_params(which='minor', length=3.5)
    right = ax.secondary_yaxis('right')
    right.yaxis.set_major_locator(MultipleLocator(10000))
    right.yaxis.set_minor_locator(MultipleLocator(5000))
    right.tick_params(which='both', direction='in', labelright=False, width=1.1)
    right.tick_params(which='major', length=5)
    right.tick_params(which='minor', length=3.5)
    ax.set_xlabel('Time', fontsize=FS, labelpad=13)
    ax.set_ylabel(r'Diffuse illuminance $E_{\mathrm{v,d}}$ in lx', fontsize=FS, labelpad=4)
    ax.axhline(threshold, color='black', lw=1.5, ls=(0, (5, 3.5)), zorder=3)


style_axes(ax_a)
style_axes(ax_b)

# panel a) scatter
for t, vals in list(zip(t_5min, e_5min)) + list(zip(t_5min_b, e_5min_b)):
    ax_a.plot([t] * len(vals), [v * 1000 for v in vals], 'o', color='black',
              ms=3.2, mew=0, zorder=2)

span_y = [66350, 61250, 56120, 51090]
span_top = [(68200, 68200), (63500, 63000), (63500, 58100), (52900, 52900)]
span_txt = [(13.25, 68500), (13.3, 63420), (12.69, 58230), (12.47, 52970)]
for (x0, x1, lab), ya, (t0, t1), (tx, ty) in zip(spans, span_y, span_top, span_txt):
    ax_a.plot([x0, x0], [0, t0], color='#222222', lw=0.8, zorder=2.5)
    if x1 < 20:
        ax_a.plot([x1, x1], [0, t1], color='#222222', lw=0.8, zorder=2.5)
    ax_a.annotate('', xy=(x1, ya), xytext=(x0, ya),
                  arrowprops=dict(arrowstyle='<->', lw=0.8, color='#222222',
                                  shrinkA=0, shrinkB=0, mutation_scale=9))
    ax_a.text(tx, ty, lab, fontsize=FS, ha='center', va='center')

ax_a.text(4.76, 95570, 'Bratislava', fontsize=FS, va='center')
ax_a.text(4.76, 91560, 'March 1995, 5-minute data', fontsize=FS, va='center')
for s, y in zip(stats_a, [87500, 83280, 79220]):
    ax_a.text(8.47, y, s, fontsize=FS, va='center')
ax_a.text(4.19, 18880, '16300 lx', fontsize=FS, va='center')

# panel b) scatter
for t, vals in zip(t_hour, e_hour):
    ax_b.plot([t] * len(vals), [v * 1000 for v in vals], 'o', color='black',
              ms=3.4, mew=0, zorder=2)
ax_b.plot(t_edge, [v * 1000 for v in e_edge], 'o', color='black', ms=3.4, mew=0, zorder=2)

ax_b.text(4.81, 93560, 'Bratislava', fontsize=FS, va='center')
ax_b.text(4.81, 89400, 'March 1995, hourly averages', fontsize=FS, va='center')
for s, y in zip(stats_b, [83800, 79740, 75570]):
    ax_b.text(9.6, y, s, fontsize=FS, va='center')
ax_b.text(4.81, 19690, '16300 lx', fontsize=FS, va='center')

fig.text(290 / 1123, 1 - 728 / 740, 'a)', fontsize=FS, fontweight='bold',
         fontstyle='italic', ha='center', va='center')
fig.text(870 / 1123, 1 - 728 / 740, 'b)', fontsize=FS, fontweight='bold',
         fontstyle='italic', ha='center', va='center')

fig.savefig('out.png', dpi=100)
